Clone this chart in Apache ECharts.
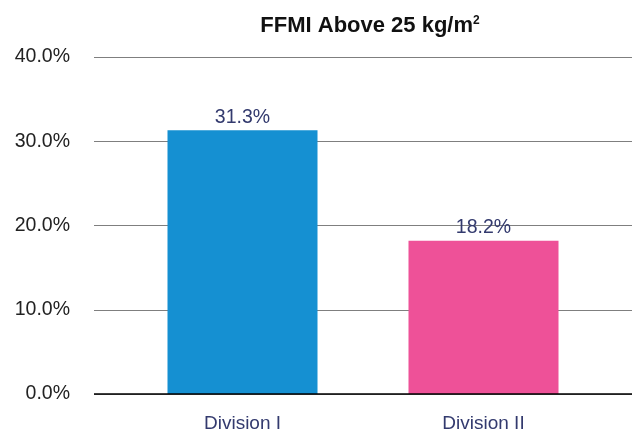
<!DOCTYPE html>
<html><head><meta charset="utf-8">
<script src="https://cdn.jsdelivr.net/npm/echarts@6/dist/echarts.min.js"></script>
<style>html,body{margin:0;padding:0;background:#fff}#c{width:634px;height:435px}</style>
</head><body><div id="c"></div>
<script>
const categories = ['Division I', 'Division II'];
const values = [31.3, 18.2];
const barColors = ['#1590d2', '#ee5198'];
const yTicks = [0, 10, 20, 30, 40];

const chart = echarts.init(document.getElementById('c'));
const font = '"Liberation Sans", Arial, Helvetica, sans-serif';
chart.setOption({
  animation: false,
  title: {
    text: '{t|FFMI Above 25 kg/m}{s|2}',
    left: 365, top: 10, textAlign: 'center',
    textStyle: { rich: {
      t: { fontFamily: font, fontSize: 22, fontWeight: 'bold', color: '#111' },
      s: { fontFamily: font, fontSize: 12, color: '#111', verticalAlign: 'top', padding: [0,0,10,0] }
    } }
  },
  grid: [
    { left: 94, right: 2, top: 57, bottom: 41 },
    { left: 122, right: 30, top: 57, bottom: 41 }
  ],
  xAxis: [
    { gridIndex: 0, type: 'category', data: ['', ''], show: false },
    { gridIndex: 1, type: 'category', data: categories,
      axisLine: { show: false }, axisTick: { show: false },
      axisLabel: { color: '#333a6e', fontFamily: font, fontSize: 19, margin: 20 } }
  ],
  yAxis: [
    { gridIndex: 0, type: 'value', min: 0, max: 40, interval: 10,
      axisLine: { show: false }, axisTick: { show: false },
      axisLabel: { color: '#222', fontFamily: font, fontSize: 19.5, margin: 24,
        formatter: v => v.toFixed(1) + '%' },
      splitLine: { lineStyle: { color: '#7f7f7f', width: 1 } } },
    { gridIndex: 1, type: 'value', min: 0, max: 40, interval: 10, show: false, splitLine: { show: false } }
  ],
  series: [
    { type: 'bar', xAxisIndex: 0, yAxisIndex: 0, data: [0, 0], silent: true,
      markLine: { symbol: 'none', silent: true, label: { show: false },
        lineStyle: { color: '#000', width: 1.5, type: 'solid' }, data: [{ yAxis: 0 }] } },
    { type: 'bar', xAxisIndex: 1, yAxisIndex: 1, barWidth: 150,
      data: values.map((v, i) => ({ value: v, itemStyle: { color: barColors[i] } })),
      label: { show: true, position: 'top', distance: 3, color: '#333a6e', fontFamily: font, fontSize: 19.5,
        formatter: p => p.value.toFixed(1) + '%' } }
  ]
});
</script></body></html>
